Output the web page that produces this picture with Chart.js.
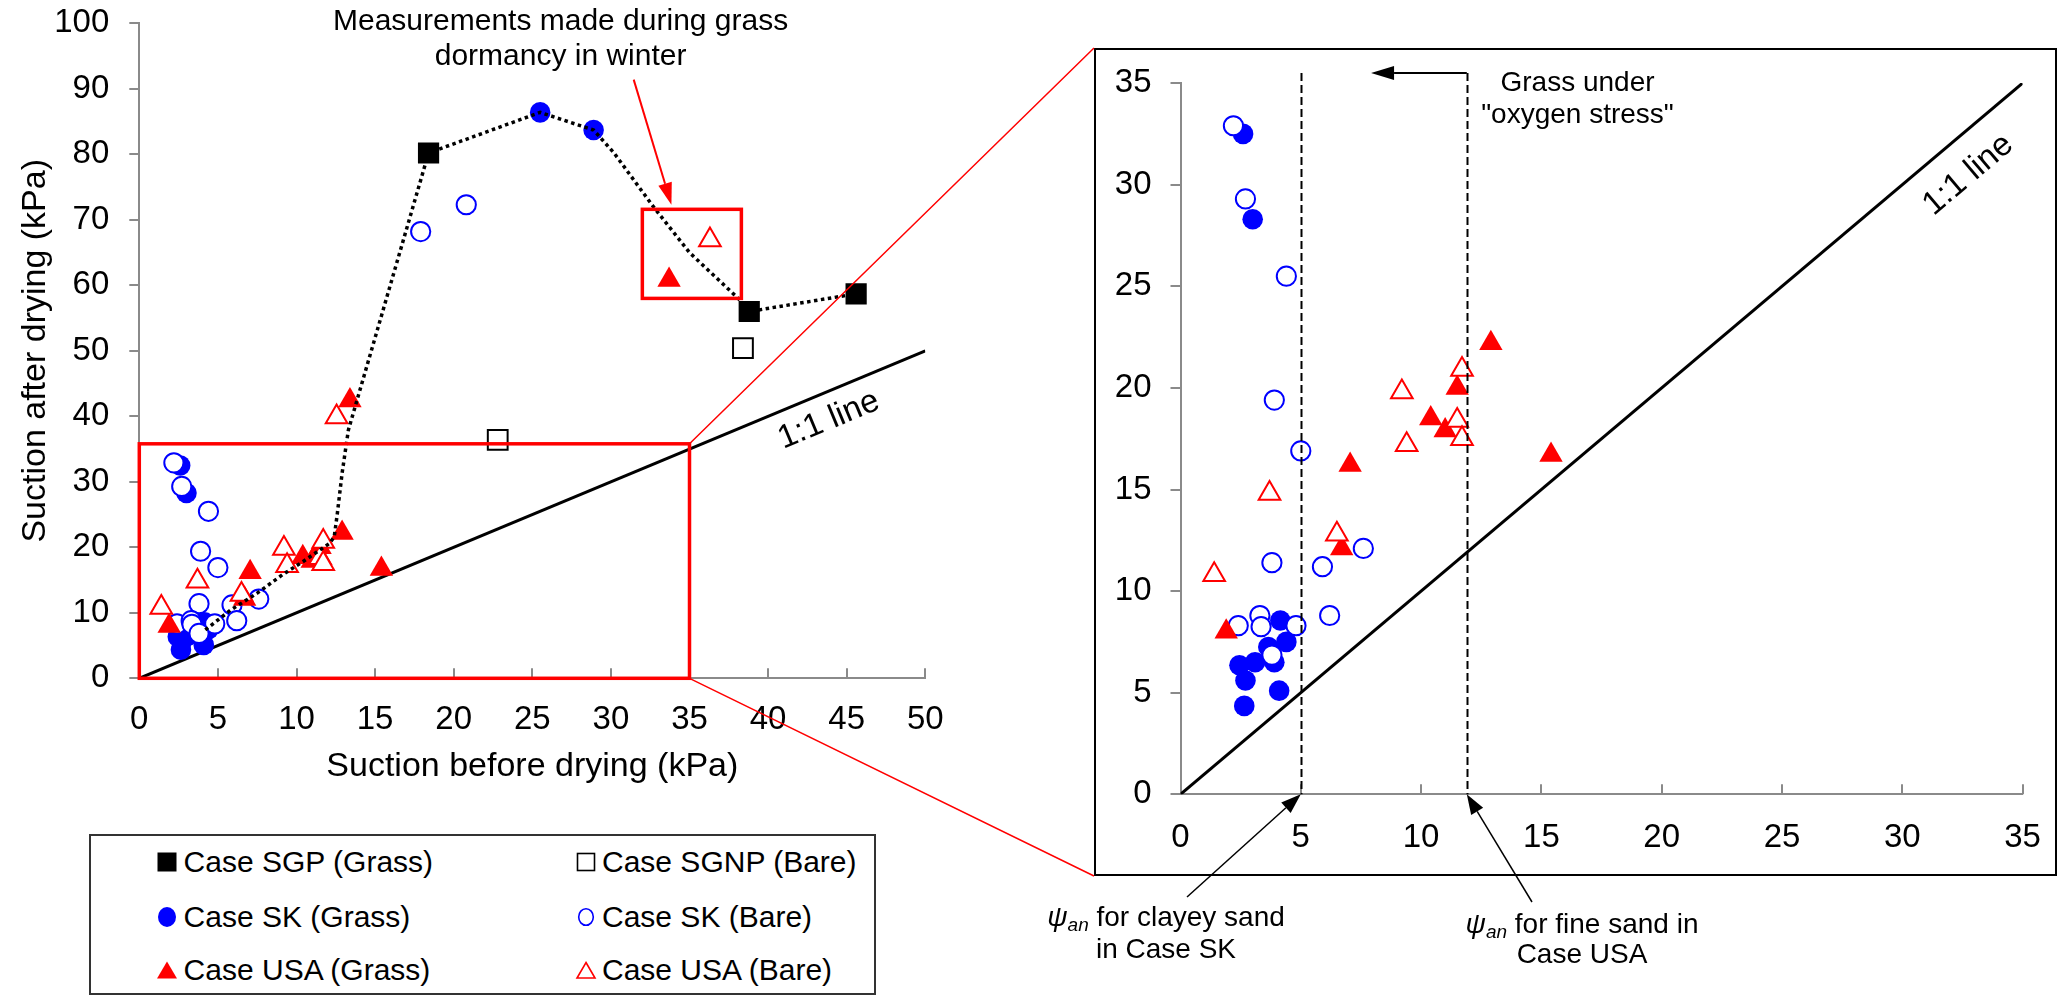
<!DOCTYPE html>
<html>
<head>
<meta charset="utf-8">
<script src="https://cdn.jsdelivr.net/npm/chart.js@4.4.1/dist/chart.umd.min.js"></script>
<style>
  body { margin: 0; background: #fff; }
  #page { position: relative; width: 2065px; height: 995px; background: #fff; overflow: hidden;
          font-family: 'Liberation Sans', Arial, sans-serif; }
  #left { position: absolute; left: 0; top: 0; }
  #right { position: absolute; left: 1094px; top: 48px; }
  #overlay { position: absolute; left: 0; top: 0; pointer-events: none; }
  #legend { position: absolute; left: 89px; top: 834px; width: 787px; height: 161px;
            box-sizing: border-box; border: 2px solid #333; }
  #legend svg { position: absolute; }
  #legend span { position: absolute; font-size: 30px; line-height: 30px; white-space: nowrap; color: #000; }
</style>
</head>
<body>
<div id="page">
  <canvas id="left" width="960" height="800"></canvas>
  <canvas id="right" width="963" height="828"></canvas>
  <div id="legend"></div>
  <canvas id="overlay" width="2065" height="995"></canvas>
</div>
<script>
// values (suction before / after drying, kPa)
var sgpX = [18.4, 38.8, 45.6];
var sgpY = [80.2, 56.0, 58.7];

var sgnpX = [22.8, 38.4];
var sgnpY = [36.4, 50.4];

var skGrassX = [2.6, 3.0, 4.15, 4.4, 3.65, 3.9, 3.1, 2.45, 2.7, 4.1, 2.65, 25.5, 28.9];
var skGrassY = [32.5, 28.3, 8.55, 7.5, 7.25, 6.5, 6.5, 6.35, 5.6, 5.1, 4.35, 86.4, 83.7];

var skBareX = [2.2, 2.7, 4.4, 3.9, 5.0, 7.6, 3.8, 5.9, 2.4, 3.3, 3.35, 4.8, 6.2, 3.8, 17.9, 20.8];
var skBareY = [32.9, 29.3, 25.5, 19.4, 16.9, 12.1, 11.4, 11.2, 8.3, 8.8, 8.25, 8.3, 8.8, 6.85, 68.2, 72.3];

var usaGrassX = [1.9, 6.7, 7.05, 10.4, 11.0, 11.5, 12.9, 15.4, 13.4, 33.7];
var usaGrassY = [8.0, 12.1, 16.2, 18.5, 17.9, 20.0, 22.2, 16.7, 42.4, 60.8];

var usaBareX = [1.4, 3.7, 6.5, 9.2, 9.4, 11.5, 11.7, 11.7, 12.55, 36.3];
var usaBareY = [10.8, 14.8, 12.8, 19.8, 17.2, 18.4, 17.5, 20.9, 39.9, 66.9];

// dotted trend through the grass data
var trendX = [4.2, 5.8, 7.5, 9.1, 10.4, 12.1, 12.4, 12.6, 12.9, 13.3, 18.4, 25.5, 28.9, 30.2, 32.7, 35.0, 38.1, 38.8, 45.6];
var trendY = [7.4, 10.4, 13.0, 15.8, 17.8, 20.6, 21.6, 25.2, 31.3, 37.9, 80.2, 86.4, 83.7, 80.2, 72.0, 65.0, 58.0, 56.0, 58.7];

var seriesLabels = ['Case SGP (Grass)', 'Case SGNP (Bare)', 'Case SK (Grass)', 'Case SK (Bare)', 'Case USA (Grass)', 'Case USA (Bare)'];

// psi_an values (kPa) marked on the zoomed plot
var psiAnSK = 5.0;
var psiAnUSA = 11.9;

var FONT = "'Liberation Sans', Arial, sans-serif";
var RED = '#ff0000';
var BLUE = '#0000ff';
var GRAY = '#8a8a8a';

Chart.defaults.font.family = FONT;
Chart.defaults.color = '#000';

function pts(xs, ys) {
  return xs.map(function (x, i) { return { x: x, y: ys[i] }; });
}

// marker look for each series (same order as seriesLabels)
var looks = [
  { xs: sgpX, ys: sgpY, style: 'rect', color: '#000', filled: true, r: 15, order: 6 },
  { xs: sgnpX, ys: sgnpY, style: 'rect', color: '#000', filled: false, r: 14, order: 5 },
  { xs: skGrassX, ys: skGrassY, style: 'circle', color: BLUE, filled: true, r: 10.3, order: 4 },
  { xs: skBareX, ys: skBareY, style: 'circle', color: BLUE, filled: false, r: 9.6, order: 3 },
  { xs: usaGrassX, ys: usaGrassY, style: 'triangle', color: RED, filled: true, r: 13.5, order: 2 },
  { xs: usaBareX, ys: usaBareY, style: 'triangle', color: RED, filled: false, r: 12.5, order: 1 }
];

function markerSets() {
  return looks.map(function (s, i) {
    return {
      label: seriesLabels[i],
      data: pts(s.xs, s.ys),
      pointStyle: s.style,
      pointRadius: s.r,
      pointBackgroundColor: s.filled ? s.color : '#fff',
      pointBorderColor: s.color,
      pointBorderWidth: s.filled ? 0 : 2,
      showLine: false,
      order: s.order
    };
  });
}

function oneToOne(max) {
  return {
    label: '1:1 line',
    data: [{ x: 0, y: 0 }, { x: max, y: max }],
    showLine: true, borderColor: '#000', borderWidth: 3,
    pointRadius: 0, order: 20
  };
}

function arrow(ctx, x1, y1, x2, y2, color, lw, hl, hw) {
  var a = Math.atan2(y2 - y1, x2 - x1);
  var bx = x2 - hl * Math.cos(a), by = y2 - hl * Math.sin(a);
  ctx.strokeStyle = color; ctx.fillStyle = color; ctx.lineWidth = lw;
  ctx.setLineDash([]);
  ctx.beginPath(); ctx.moveTo(x1, y1); ctx.lineTo(bx, by); ctx.stroke();
  ctx.beginPath(); ctx.moveTo(x2, y2);
  ctx.lineTo(bx + hw * Math.sin(a), by - hw * Math.cos(a));
  ctx.lineTo(bx - hw * Math.sin(a), by + hw * Math.cos(a));
  ctx.closePath(); ctx.fill();
}

// x ticks of the original point up into the plot
function inwardTicks(ctx, xs) {
  ctx.strokeStyle = GRAY; ctx.lineWidth = 2; ctx.setLineDash([]);
  xs.ticks.forEach(function (t) {
    if (t.value === xs.min) return;
    var px = Math.round(xs.getPixelForValue(t.value));
    ctx.beginPath(); ctx.moveTo(px, xs.top); ctx.lineTo(px, xs.top - 10); ctx.stroke();
  });
}

// "1:1 line" written under the line, along it
function lineLabel(ctx, xs, ys, v, off) {
  var a = Math.atan2(ys.getPixelForValue(10) - ys.getPixelForValue(0), xs.getPixelForValue(10) - xs.getPixelForValue(0));
  var fx = xs.getPixelForValue(v), fy = ys.getPixelForValue(v);
  var cx = fx - off * Math.sin(a), cy = fy + off * Math.cos(a);
  ctx.save();
  ctx.translate(cx, cy); ctx.rotate(a);
  ctx.font = '33px ' + FONT; ctx.fillStyle = '#000';
  ctx.textAlign = 'center'; ctx.textBaseline = 'middle';
  ctx.fillText('1:1 line', 0, 0);
  ctx.restore();
}

function axis(min, max, step, tickPad, opts) {
  return Object.assign({
    type: 'linear', min: min, max: max,
    ticks: { stepSize: step, font: { size: 33 }, color: '#000', padding: tickPad },
    border: { color: GRAY, width: 2 },
    grid: { drawOnChartArea: false, drawTicks: false }
  }, opts || {});
}

// fixed axis box; label overflow is left to the layout padding
function fixX(h) {
  return function (s) { s.height = h; s.paddingLeft = 0; s.paddingRight = 0; };
}
function fixY(w) {
  return function (s) { s.width = w; s.paddingTop = 0; s.paddingBottom = 0; };
}

// move the plot area onto the wanted box (canvas pixels)
function fitArea(chart, want) {
  for (var k = 0; k < 2; k++) {
    var a = chart.chartArea, p = chart.config.options.layout.padding;
    p.top += want.top - a.top;
    p.left += want.left - a.left;
    p.right += a.right - want.right;
    p.bottom += a.bottom - want.bottom;
    chart.update('none');
  }
}

// ---- left chart ----
var leftDecor = {
  id: 'leftDecor',
  afterDatasetsDraw: function (chart) {
    var ctx = chart.ctx, x = chart.scales.x, y = chart.scales.y;
    ctx.save();
    inwardTicks(ctx, x);

    ctx.strokeStyle = RED; ctx.lineWidth = 3.5;
    var x0 = x.getPixelForValue(0), x1 = x.getPixelForValue(35);
    ctx.strokeRect(x0, y.getPixelForValue(35.8), x1 - x0, y.getPixelForValue(0) - y.getPixelForValue(35.8));
    var w0 = x.getPixelForValue(32), w1 = x.getPixelForValue(38.3);
    ctx.strokeRect(w0, y.getPixelForValue(71.6), w1 - w0, y.getPixelForValue(58) - y.getPixelForValue(71.6));

    arrow(ctx, x.getPixelForValue(31.45), y.getPixelForValue(91.4), x.getPixelForValue(33.85), y.getPixelForValue(72.3), RED, 2, 22, 7);

    ctx.fillStyle = '#000'; ctx.font = '30px ' + FONT;
    ctx.textAlign = 'center'; ctx.textBaseline = 'middle';
    var tx = x.getPixelForValue(26.8), ty = y.getPixelForValue(100) - 1.5;
    ctx.fillText('Measurements made during grass', tx, ty);
    ctx.fillText('dormancy in winter', tx, ty + 35);

    lineLabel(ctx, x, y, 43.2, 27);
    ctx.restore();
  }
};

var leftSets = markerSets();
leftSets.push(oneToOne(50));
leftSets.push({
  label: 'trend', data: pts(trendX, trendY), showLine: true,
  borderColor: '#000', borderWidth: 3.5, borderDash: [3.5, 3.5],
  pointRadius: 0, order: -1
});

var leftChart = new Chart(document.getElementById('left'), {
  type: 'scatter',
  data: { datasets: leftSets },
  options: {
    responsive: false, animation: false, devicePixelRatio: 1, events: [],
    layout: { padding: { top: 23.3, right: 34.7, bottom: 0, left: 0 } },
    plugins: { legend: { display: false }, tooltip: { enabled: false } },
    scales: {
      x: axis(0, 50, 5, 22, {
        title: { display: true, text: 'Suction before drying (kPa)', font: { size: 34 }, color: '#000', padding: { top: 0, bottom: 13 } },
        afterFit: fixX(121.7)
      }),
      y: axis(0, 100, 10, 20, {
        grid: { drawOnChartArea: false, drawTicks: true, tickLength: 10, color: GRAY, lineWidth: 2 },
        title: { display: true, text: 'Suction after drying (kPa)', font: { size: 34 }, color: '#000', padding: { top: 15, bottom: 0 } },
        afterFit: fixY(139.3)
      })
    }
  },
  plugins: [leftDecor]
});
fitArea(leftChart, { left: 139.3, top: 23.3, right: 925.3, bottom: 678.3 });

// ---- right (zoomed) chart ----
var rightDecor = {
  id: 'rightDecor',
  beforeDraw: function (chart) {
    var ctx = chart.ctx;
    ctx.save();
    ctx.strokeStyle = '#000'; ctx.lineWidth = 2;
    ctx.strokeRect(1, 1, chart.width - 2, chart.height - 2);
    ctx.restore();
  },
  afterDatasetsDraw: function (chart) {
    var ctx = chart.ctx, x = chart.scales.x, y = chart.scales.y;
    ctx.save();
    inwardTicks(ctx, x);

    var top = y.getPixelForValue(35.5), bot = y.getPixelForValue(0);
    ctx.strokeStyle = '#000'; ctx.lineWidth = 2; ctx.setLineDash([8, 4]);
    [psiAnSK, psiAnUSA].forEach(function (v) {
      var px = Math.round(x.getPixelForValue(v)) + 0.5;
      ctx.beginPath(); ctx.moveTo(px, top); ctx.lineTo(px, bot); ctx.stroke();
    });
    ctx.setLineDash([]);

    arrow(ctx, x.getPixelForValue(psiAnUSA), top, x.getPixelForValue(7.92), top, '#000', 2, 23, 7);

    ctx.fillStyle = '#000'; ctx.font = '28px ' + FONT;
    ctx.textAlign = 'center'; ctx.textBaseline = 'middle';
    var tx = x.getPixelForValue(16.5);
    ctx.fillText('Grass under', tx, y.getPixelForValue(34.98));
    ctx.fillText('"oxygen stress"', tx, y.getPixelForValue(33.42));

    lineLabel(ctx, x, y, 31.8, 35);
    ctx.restore();
  }
};

var rightSets = markerSets();
rightSets.push(oneToOne(35));

var rightChart = new Chart(document.getElementById('right'), {
  type: 'scatter',
  data: { datasets: rightSets },
  options: {
    responsive: false, animation: false, devicePixelRatio: 1, events: [],
    layout: { padding: { top: 35.1, right: 34.4, bottom: 0, left: 0 } },
    plugins: { legend: { display: false }, tooltip: { enabled: false } },
    scales: {
      x: axis(0, 35, 5, 24, { afterFit: fixX(81.7) }),
      y: axis(0, 35, 5, 19, {
        grid: { drawOnChartArea: false, drawTicks: true, tickLength: 10, color: GRAY, lineWidth: 2 },
        afterFit: fixY(86.5)
      })
    }
  },
  plugins: [rightDecor]
});
fitArea(rightChart, { left: 86.5, top: 35.1, right: 928.6, bottom: 746.3 });

// ---- legend box ----
var legendPos = [
  [166.6, 861.7, 183.6], [586, 861.7, 602],
  [166.6, 916.7, 183.6], [586, 916.7, 602],
  [166.6, 970, 183.6], [586, 970, 602]
];
var legend = document.getElementById('legend');
var NS = 'http://www.w3.org/2000/svg';
looks.forEach(function (s, i) {
  var p = legendPos[i], ox = 89 + 2, oy = 834 + 2;
  var svg = document.createElementNS(NS, 'svg');
  svg.setAttribute('width', 24); svg.setAttribute('height', 24);
  svg.style.left = (p[0] - 12 - ox) + 'px'; svg.style.top = (p[1] - 12 - oy) + 'px';
  var shape;
  var fill = s.filled ? s.color : '#fff';
  if (s.style === 'rect') {
    var side = s.filled ? 19 : 17;
    shape = document.createElementNS(NS, 'rect');
    shape.setAttribute('x', 12 - side / 2); shape.setAttribute('y', 12 - side / 2);
    shape.setAttribute('width', side); shape.setAttribute('height', side);
  } else if (s.style === 'circle') {
    shape = document.createElementNS(NS, 'ellipse');
    shape.setAttribute('cx', 12); shape.setAttribute('cy', 12);
    shape.setAttribute('rx', s.filled ? 9 : 7.3); shape.setAttribute('ry', s.filled ? 10 : 8.3);
  } else {
    shape = document.createElementNS(NS, 'polygon');
    shape.setAttribute('points', s.filled ? '12,3.5 22,20.5 2,20.5' : '12,4.5 21,20 3,20');
  }
  shape.setAttribute('fill', fill);
  shape.setAttribute('stroke', s.color);
  shape.setAttribute('stroke-width', s.filled ? 0 : 1.6);
  svg.appendChild(shape);
  legend.appendChild(svg);
  var span = document.createElement('span');
  span.textContent = seriesLabels[i];
  span.style.left = (p[2] - ox) + 'px'; span.style.top = (p[1] - 15 - oy) + 'px';
  legend.appendChild(span);
});

// ---- page overlay: zoom connectors and psi_an notes ----
(function () {
  var ctx = document.getElementById('overlay').getContext('2d');
  var lx = leftChart.scales.x, ly = leftChart.scales.y;
  var rx = rightChart.scales.x, ry = rightChart.scales.y;
  var RX0 = 1094, RY0 = 48;

  ctx.strokeStyle = RED; ctx.lineWidth = 1.5;
  ctx.beginPath();
  ctx.moveTo(lx.getPixelForValue(35), ly.getPixelForValue(35.8)); ctx.lineTo(RX0, RY0);
  ctx.moveTo(lx.getPixelForValue(35), ly.getPixelForValue(0)); ctx.lineTo(RX0, RY0 + 828);
  ctx.stroke();

  function psiLine(cx, cy, rest) {
    var big = '28px ' + FONT, it = 'italic 28px ' + FONT, sub = 'italic 19px ' + FONT;
    ctx.font = it; var w1 = ctx.measureText('\u03c8').width;
    ctx.font = sub; var w2 = ctx.measureText('an').width;
    ctx.font = big; var w3 = ctx.measureText(rest).width;
    var x = cx - (w1 + w2 + w3) / 2;
    ctx.fillStyle = '#000'; ctx.textAlign = 'left'; ctx.textBaseline = 'middle';
    ctx.font = it; ctx.fillText('\u03c8', x, cy); x += w1;
    ctx.font = sub; ctx.fillText('an', x, cy + 8); x += w2;
    ctx.font = big; ctx.fillText(rest, x, cy);
  }
  function plain(cx, cy, t) {
    ctx.font = '28px ' + FONT; ctx.fillStyle = '#000';
    ctx.textAlign = 'center'; ctx.textBaseline = 'middle';
    ctx.fillText(t, cx, cy);
  }

  psiLine(1166, 918, ' for clayey sand');
  plain(1166, 950, 'in Case SK');
  psiLine(1582, 925, ' for fine sand in');
  plain(1582, 955, 'Case USA');

  arrow(ctx, 1187, 897, RX0 + rx.getPixelForValue(psiAnSK), RY0 + ry.getPixelForValue(0), '#000', 1.5, 20, 7);
  arrow(ctx, 1532, 902, RX0 + rx.getPixelForValue(psiAnUSA), RY0 + ry.getPixelForValue(0), '#000', 1.5, 20, 7);
})();
</script>
</body>
</html>
